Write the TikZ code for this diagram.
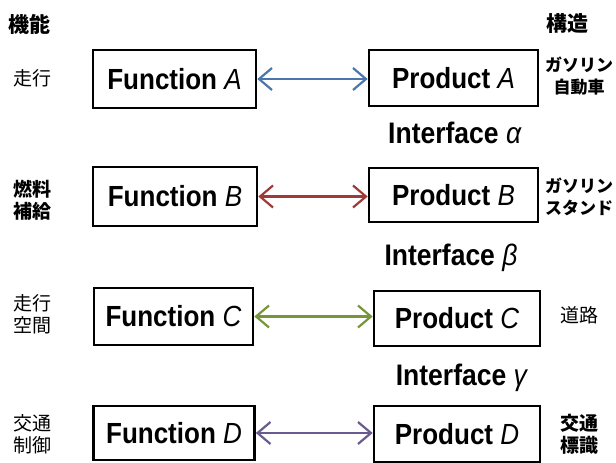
\documentclass[tikz,border=0pt]{standalone}
\usepackage{graphicx}
\usepackage{fontspec}
\setmainfont{Liberation Sans}
\newfontfamily\jp{Noto Sans CJK JP}
\usetikzlibrary{arrows.meta}
\definecolor{ablue}{HTML}{4A76AC}
\definecolor{ared}{HTML}{9E3A38}
\definecolor{agreen}{HTML}{77963A}
\definecolor{apurple}{HTML}{6A5A8E}
\tikzset{
  box/.style={draw, line width=2.6pt, inner sep=0pt, font=\fontsize{26}{30}\selectfont\bfseries},
  link/.style={line width=2.2pt, {Straight Barb[length=13pt,width=22pt,line width=2.2pt]}-{Straight Barb[length=13pt,width=22pt,line width=2.2pt]}},
  iface/.style={font=\fontsize{26.5}{30}\selectfont\bfseries},
  head/.style={font=\jp\fontsize{21}{24}\selectfont\bfseries},
  lab/.style={font=\jp\fontsize{19}{24}\selectfont, align=center},
  labb/.style={font=\jp\fontsize{19}{24}\selectfont\bfseries, align=center},
  labs/.style={font=\jp\fontsize{17}{24}\selectfont\bfseries, align=center}
}
% upright tall setting of the box and interface captions
\newcommand{\tall}[1]{\scalebox{1}[1.12]{#1}}
\newcommand{\ital}[1]{\textmd{\textit{#1}}}
\begin{document}
\begin{tikzpicture}[x=1pt,y=-1pt]
\useasboundingbox (0,0) rectangle (616,463);
% headings
\node[head] (hf) at (30,24) {機能};
\node[head] (hs) at (567,24) {構造};
% functions (left column)
\node[box, minimum width=163pt, minimum height=58pt] (fa) at (174.5,79) {\tall{Function \ital{A}}};
\node[box, minimum width=164pt, minimum height=59pt] (fb) at (175,196.5) {\tall{Function \ital{B}}};
\node[box, minimum width=159pt, minimum height=57pt] (fc) at (173.5,316.5) {\tall{Function \ital{C}}};
\node[box, minimum width=161pt, minimum height=54pt] (fd) at (174,433) {\tall{Function \ital{D}}};
% products (right column)
\node[box, minimum width=169pt, minimum height=56pt] (pa) at (453.5,78) {\tall{Product \ital{A}}};
\node[box, minimum width=169pt, minimum height=54pt] (pb) at (453.5,195) {\tall{Product \ital{B}}};
\node[box, minimum width=166pt, minimum height=55pt] (pc) at (457,318.5) {\tall{Product \ital{C}}};
\node[box, minimum width=166pt, minimum height=56pt] (pd) at (457,434) {\tall{Product \ital{D}}};
% interfaces
\node[iface] (ia) at (455,133) {\tall{Interface \ital{α}}};
\node[iface] (ib) at (451,258) {\tall{Interface \ital{β}}};
\node[iface] (ig) at (462,378) {\tall{Interface \ital{γ}}};
% left labels
\node[lab] (la) at (32,78) {走行};
\node[labb] (lb) at (32,200) {燃料\\[-2pt]補給};
\node[lab] (lc) at (32,314) {走行\\[-2pt]空間};
\node[lab] (ld) at (32,434) {交通\\[-2pt]制御};
% right labels
\node[labs] (ra) at (579,76) {ガソリン\\[-2pt]自動車};
\node[labs] (rb) at (579,197) {ガソリン\\[-2pt]スタンド};
\node[lab] (rc) at (579,315) {道路};
\node[labb] (rd) at (579,434) {交通\\[-2pt]標識};
% connectors
\draw[link, ablue]   (fa.east) -- (fa.east -| pa.west);
\draw[link, ared]    (fb.east) -- (fb.east -| pb.west);
\draw[link, agreen]  (fc.east) -- (fc.east -| pc.west);
\draw[link, apurple] (fd.east) -- (fd.east -| pd.west);
\end{tikzpicture}
\end{document}
